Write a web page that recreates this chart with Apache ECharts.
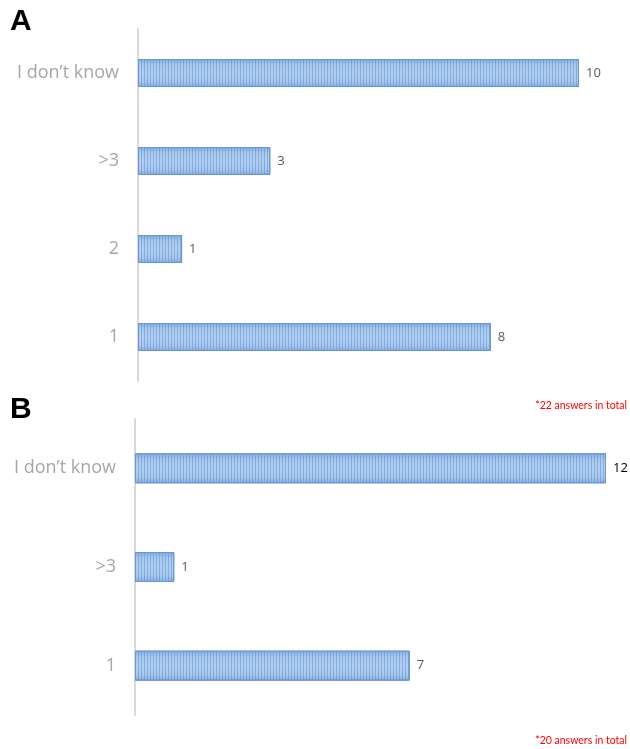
<!DOCTYPE html>
<html>
<head>
<meta charset="utf-8">
<script src="https://cdn.jsdelivr.net/npm/echarts@6/dist/echarts.min.js"></script>
<style>html,body{margin:0;padding:0;background:#fff}#c{width:630px;height:749px}</style>
</head>
<body>
<div id="c"></div>
<script>
const catsA = ["1", "2", ">3", "I don\u2019t know"];
const valsA = [8, 1, 3, 10];
const catsB = ["1", ">3", "I don\u2019t know"];
const valsB = [7, 1, 12];
const labelColorsA = ["#595959", "#595959", "#595959", "#595959"];
const labelColorsB = ["#595959", "#595959", "#000000"];
const noteA = "*22 answers in total";
const noteB = "*20 answers in total";

const chart = echarts.init(document.getElementById('c'), null, {renderer: 'canvas'});
const barColor = {
  type: 'linear', x: 0, y: 0, x2: 0, y2: 1,
  colorStops: [
    {offset: 0, color: '#86addf'},
    {offset: 0.2, color: '#a9c9ec'},
    {offset: 0.5, color: '#b3d0f0'},
    {offset: 0.8, color: '#a9c9ec'},
    {offset: 1, color: '#86addf'}
  ]
};
const decal = {
  symbol: 'rect', symbolSize: 1, dashArrayX: [1, 2], dashArrayY: [4, 0],
  rotation: 0, color: 'rgba(90,140,210,0.5)'
};
function catAxis(idx) {
  return {
    type: 'category', gridIndex: idx, data: idx === 0 ? catsA : catsB,
    axisLine: {show: true, lineStyle: {color: '#d9d9d9', width: 2}},
    axisTick: {show: false},
    axisLabel: {color: '#a6a6a6', fontSize: 18, fontFamily: 'Open Sans', margin: 19, padding: [4, 0, 0, 0]}
  };
}
function valAxis(idx, max) {
  return {
    type: 'value', gridIndex: idx, min: 0, max: max,
    show: false, splitLine: {show: false}
  };
}
function bars(idx, vals, labelColors) {
  return {
    type: 'bar', xAxisIndex: idx, yAxisIndex: idx,
    data: vals.map((v, i) => ({value: v, label: {color: labelColors[i]}})),
    barWidth: idx === 0 ? 28 : 30,
    itemStyle: {color: barColor, borderColor: '#6a97d4', borderWidth: 1, decal: decal},
    label: {
      show: true, position: 'right', distance: 7, fontSize: 13, fontFamily: 'Open Sans'
    },
    animation: false
  };
}
chart.setOption({
  animation: false,
  aria: {enabled: true, decal: {show: true}},
  grid: [
    {left: 138, top: 29, width: 441, height: 352},
    {left: 135, top: 419, width: 471, height: 296}
  ],
  xAxis: [valAxis(0, 10), valAxis(1, 12)],
  yAxis: [catAxis(0), catAxis(1)],
  series: [
    bars(0, valsA, labelColorsA),
    bars(1, valsB, labelColorsB)
  ],
  graphic: [
    {type: 'text', left: 10, top: 7, style: {text: 'A', font: 'bold 30px "Liberation Sans"', fill: '#000'}},
    {type: 'text', left: 10, top: 395, style: {text: 'B', font: 'bold 30px "Liberation Sans"', fill: '#000'}},
    {type: 'text', right: 3, top: 400, style: {text: noteA, font: '10.5px Lato', fill: '#ff0000'}},
    {type: 'text', right: 3, top: 735, style: {text: noteB, font: '10.5px Lato', fill: '#ff0000'}}
  ]
});
</script>
</body>
</html>
